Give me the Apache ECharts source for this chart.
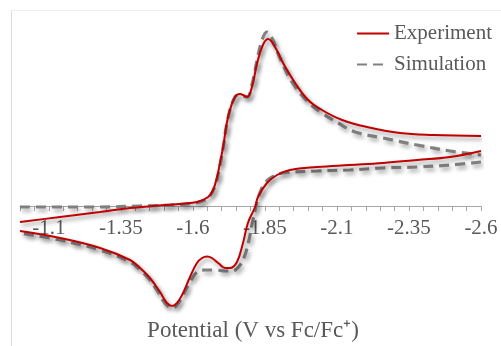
<!DOCTYPE html>
<html>
<head>
<meta charset="utf-8">
<script src="https://cdn.jsdelivr.net/npm/echarts@6/dist/echarts.min.js"></script>
<style>
  html, body { margin: 0; padding: 0; background: #fff; }
  #chart { width: 501px; height: 346px; }
</style>
</head>
<body>
<div id="chart"></div>
<script>
// Cyclic voltammogram: potential (V vs Fc/Fc+) and normalised current.
// Forward (cathodic) sweep runs from -1.0 V to -2.6 V, reverse sweep back.

const majorTicks = [-1.1, -1.35, -1.6, -1.85, -2.1, -2.35, -2.6];

const expFwdV = [-1.000, -1.139, -1.278, -1.382, -1.503, -1.614, -1.653, -1.670, -1.684, -1.694,
                 -1.705, -1.722, -1.746, -1.764, -1.788, -1.805, -1.823, -1.843, -1.861, -1.885,
                 -1.913, -1.955, -2.000, -2.048, -2.118, -2.204, -2.319, -2.434, -2.600];
const expFwdI = [-0.16, -0.11, -0.06, -0.02, 0.01, 0.04, 0.09, 0.16, 0.29, 0.43,
                 0.59, 0.89, 1.09, 1.12, 1.09, 1.19, 1.43, 1.61, 1.67, 1.59,
                 1.43, 1.23, 1.06, 0.96, 0.86, 0.79, 0.73, 0.71, 0.70];

const expRevV = [-2.600, -2.493, -2.378, -2.260, -2.145, -2.031, -1.937, -1.892, -1.857, -1.826,
                 -1.816, -1.791, -1.774, -1.753, -1.729, -1.712, -1.690, -1.666, -1.649, -1.632,
                 -1.614, -1.590, -1.566, -1.545, -1.528, -1.510, -1.486, -1.451, -1.417, -1.382,
                 -1.278, -1.139, -1.000];
const expRevI = [0.55, 0.49, 0.46, 0.43, 0.41, 0.39, 0.36, 0.31, 0.23, 0.09,
                 -0.01, -0.17, -0.37, -0.56, -0.62, -0.62, -0.575, -0.52, -0.505, -0.52,
                 -0.57, -0.71, -0.87, -0.97, -1.00, -0.97, -0.86, -0.72, -0.62, -0.54,
                 -0.42, -0.32, -0.25];

const simFwdV = [-1.000, -1.278, -1.417, -1.521, -1.607, -1.642, -1.659, -1.677, -1.691, -1.705,
                 -1.722, -1.746, -1.764, -1.788, -1.805, -1.823, -1.840, -1.857, -1.878, -1.902,
                 -1.944, -2.000, -2.048, -2.104, -2.163, -2.260, -2.378, -2.493, -2.600];
const simFwdI = [-0.01, -0.01, 0.00, 0.01, 0.03, 0.06, 0.10, 0.20, 0.36, 0.58,
                 0.88, 1.09, 1.11, 1.09, 1.21, 1.46, 1.66, 1.74, 1.66, 1.48,
                 1.24, 1.04, 0.93, 0.83, 0.74, 0.68, 0.61, 0.55, 0.51];

const simRevV = [-2.600, -2.493, -2.378, -2.260, -2.145, -2.031, -1.913, -1.875, -1.850, -1.830,
                 -1.816, -1.805, -1.795, -1.781, -1.764, -1.736, -1.712, -1.677, -1.642, -1.614,
                 -1.590, -1.566, -1.545, -1.528, -1.503, -1.479, -1.451, -1.417, -1.382, -1.278,
                 -1.139, -1.000];
const simRevI = [0.44, 0.41, 0.39, 0.38, 0.36, 0.35, 0.33, 0.29, 0.23, 0.11,
                 -0.04, -0.19, -0.34, -0.49, -0.59, -0.65, -0.65, -0.64, -0.64, -0.66,
                 -0.76, -0.89, -0.99, -1.02, -0.97, -0.86, -0.74, -0.64, -0.56, -0.44,
                 -0.34, -0.27];

const pairs = (xs, ys) => xs.map((x, i) => [x, ys[i]]);

const serifFont = "'Liberation Serif', 'DejaVu Serif', serif";
const textGray = '#595959';

const yMin = -1.2;
const yMax = 1.96;
const gridTop = 10;
const gridBottom = 20;
const chartHeight = 346;

// Place the potential axis on the zero-current line.
const plotHeight = chartHeight - gridTop - gridBottom;
const zeroY = gridTop + plotHeight * (yMax - 0) / (yMax - yMin);
const axisOffset = zeroY - (chartHeight - gridBottom);

const expStyle = {
  color: '#C00000', width: 2, type: 'solid',
  shadowColor: 'rgba(0,0,0,0.45)', shadowBlur: 4, shadowOffsetX: 2, shadowOffsetY: 3
};
const simStyle = {
  color: '#808080', width: 3.2, type: [10, 6],
  shadowColor: 'rgba(0,0,0,0.38)', shadowBlur: 4, shadowOffsetX: 2, shadowOffsetY: 3
};

function lineSeries(name, data, style) {
  return {
    name: name,
    type: 'line',
    data: data,
    smooth: 0.4,
    symbol: 'none',
    lineStyle: style,
    itemStyle: { color: style.color },
    emphasis: { disabled: true },
    z: name === 'Experiment' ? 3 : 2
  };
}

const chart = echarts.init(document.getElementById('chart'), null, { renderer: 'canvas' });

chart.setOption({
  animation: false,
  backgroundColor: '#ffffff',
  grid: { left: 20, right: 20, top: gridTop, bottom: gridBottom, containLabel: false, outerBoundsMode: 'none' },
  legend: {
    data: ['Experiment', 'Simulation'],
    orient: 'vertical',
    right: 4,
    top: 18,
    itemWidth: 32,
    itemHeight: 14,
    itemGap: 10,
    textStyle: { fontFamily: serifFont, fontSize: 21, color: textGray },
    itemStyle: { opacity: 0 },
    lineStyle: { shadowBlur: 0, shadowOffsetX: 0, shadowOffsetY: 0, shadowColor: 'transparent' },
    selectedMode: false
  },
  xAxis: {
    type: 'value',
    min: -2.6,
    max: -1.0,
    interval: 0.05,
    inverse: true,
    offset: axisOffset,
    axisLine: { onZero: false, lineStyle: { color: '#a6a6a6', width: 1 } },
    axisTick: { show: true, length: 5, lineStyle: { color: '#a6a6a6' } },
    splitLine: { show: false },
    axisLabel: {
      margin: 12,
      fontFamily: serifFont,
      fontSize: 21,
      color: textGray,
      formatter: function (v) {
        const hit = majorTicks.find(t => Math.abs(t - v) < 1e-6);
        return hit === undefined ? '' : String(hit);
      }
    }
  },
  yAxis: {
    type: 'value',
    min: yMin,
    max: yMax,
    show: false,
    splitLine: { show: false }
  },
  graphic: [
    { type: 'line', shape: { x1: 11, y1: 10.5, x2: 501, y2: 10.5 },
      style: { stroke: '#efefef', lineWidth: 1 }, silent: true },
    { type: 'line', shape: { x1: 11.5, y1: 10.5, x2: 11.5, y2: 346 },
      style: { stroke: '#dcdcdc', lineWidth: 1 }, silent: true },
    { type: 'text', x: 253, y: 331,
      style: { text: 'Potential (V vs Fc/Fc\u207A)', font: "23px 'Liberation Serif', serif",
               fill: textGray, textAlign: 'center', textVerticalAlign: 'middle' }, silent: true }
  ],
  series: [
    lineSeries('Simulation', pairs(simFwdV, simFwdI), simStyle),
    lineSeries('Simulation', pairs(simRevV, simRevI), simStyle),
    lineSeries('Experiment', pairs(expFwdV, expFwdI), expStyle),
    lineSeries('Experiment', pairs(expRevV, expRevI), expStyle)
  ]
});
</script>
</body>
</html>
